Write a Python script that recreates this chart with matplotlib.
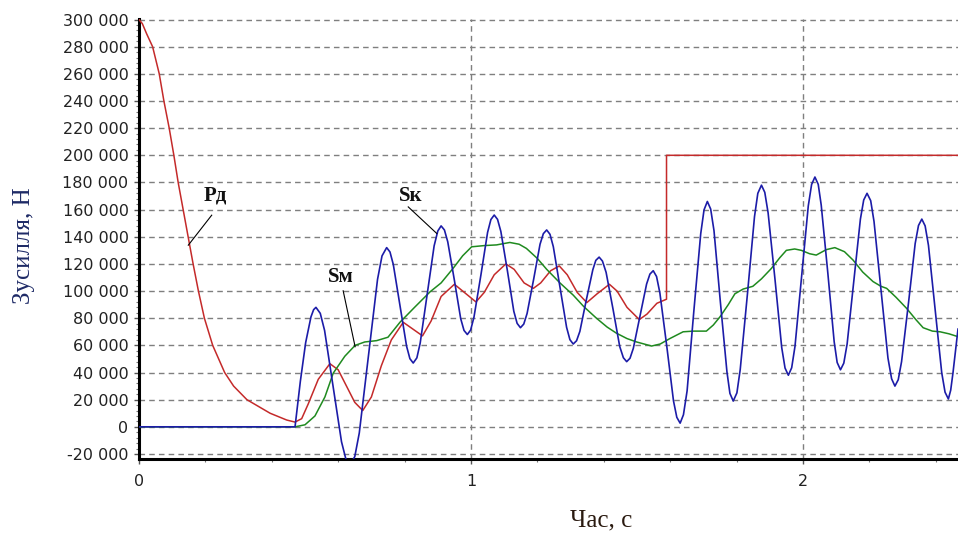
import matplotlib
matplotlib.use("Agg")
import matplotlib.pyplot as plt
from matplotlib.ticker import FuncFormatter, MultipleLocator

# ---- data ----
t_red = [0.0, 0.01, 0.023, 0.041, 0.061, 0.075, 0.091, 0.105, 0.118, 0.133, 0.148,
         0.163, 0.179, 0.197, 0.222, 0.258, 0.285, 0.325, 0.395, 0.445, 0.47,
         0.49, 0.51, 0.54, 0.575, 0.60, 0.625, 0.65, 0.674, 0.70, 0.73, 0.76,
         0.796, 0.825, 0.854, 0.88, 0.91, 0.95, 0.98, 1.015, 1.04, 1.07, 1.105,
         1.13, 1.16, 1.188, 1.21, 1.24, 1.266, 1.29, 1.32, 1.349, 1.38, 1.417,
         1.44, 1.47, 1.507, 1.53, 1.56, 1.589, 1.589, 2.467]
p_red = [300000, 297000, 289500, 280000, 260000, 240000, 220000, 200000, 180000, 160000, 140000,
         120000, 100000, 80000, 60000, 40000, 30000, 20000, 10000, 5000, 3500,
         6000, 17000, 35000, 46500, 42000, 30000, 18000, 12000, 22000, 45000, 64000,
         77000, 72000, 67000, 78000, 96000, 105000, 99000, 92000, 99000, 112000, 120000,
         116000, 106000, 102000, 106000, 115000, 118500, 112000, 99000, 91500, 98000, 105000,
         100000, 88000, 79000, 83000, 91000, 94000, 200000, 200000]

t_green = [0.0, 0.47, 0.50, 0.53, 0.56, 0.585, 0.62, 0.651, 0.68, 0.716, 0.75, 0.786,
           0.83, 0.877, 0.91, 0.947, 0.975, 1.002, 1.04, 1.077, 1.117, 1.145, 1.167,
           1.20, 1.228, 1.268, 1.308, 1.34, 1.378, 1.41, 1.438, 1.47, 1.499, 1.544,
           1.57, 1.599, 1.639, 1.67, 1.709, 1.73, 1.75, 1.775, 1.795, 1.82, 1.849,
           1.875, 1.905, 1.93, 1.95, 1.975, 1.995, 2.02, 2.04, 2.07, 2.096, 2.125,
           2.151, 2.18, 2.211, 2.235, 2.252, 2.28, 2.312, 2.34, 2.362, 2.39, 2.413,
           2.44, 2.467]
s_green = [0, 0, 1500, 8000, 22000, 39500, 52000, 60000, 62500, 63500, 66000, 77000,
           88000, 99500, 106000, 117000, 126000, 132600, 133500, 134000, 135800, 134500, 131400,
           124000, 116000, 106000, 97000, 88500, 80000, 73500, 69000, 65000, 62500, 59500,
           61000, 65000, 70000, 70500, 70500, 75000, 81000, 90000, 98000, 101500, 103500,
           109000, 116700, 124500, 130000, 131000, 130000, 127500, 126500, 130500, 132000, 129000,
           122800, 114000, 107000, 103500, 102000, 95500, 87300, 79000, 73000, 70500, 70000,
           68500, 66400]

t_blue = [0.0, 0.47, 0.486, 0.502, 0.518, 0.526, 0.533,
          0.546, 0.559, 0.5845, 0.610, 0.623, 0.636,
          0.650, 0.6635, 0.691, 0.7185, 0.732, 0.746,
          0.756, 0.766, 0.786, 0.806, 0.816, 0.826,
          0.837, 0.847, 0.868, 0.889, 0.900, 0.910,
          0.920, 0.930, 0.950, 0.969, 0.979, 0.989,
          0.999, 1.009, 1.030, 1.050, 1.060, 1.070,
          1.080, 1.090, 1.110, 1.129, 1.139, 1.149,
          1.159, 1.169, 1.189, 1.208, 1.218, 1.228,
          1.238, 1.248, 1.268, 1.288, 1.298, 1.308,
          1.318, 1.328, 1.347, 1.367, 1.376, 1.386,
          1.396, 1.407, 1.428, 1.448, 1.459, 1.469,
          1.479, 1.489, 1.509, 1.529, 1.539, 1.549,
          1.559, 1.569, 1.590, 1.610, 1.620, 1.630,
          1.640, 1.651, 1.671, 1.692, 1.702, 1.712,
          1.722, 1.732, 1.751, 1.771, 1.780, 1.790,
          1.801, 1.811, 1.833, 1.854, 1.864, 1.875,
          1.885, 1.895, 1.916, 1.936, 1.946, 1.956,
          1.966, 1.976, 1.996, 2.016, 2.026, 2.036,
          2.046, 2.055, 2.075, 2.094, 2.103, 2.113,
          2.123, 2.133, 2.153, 2.173, 2.183, 2.193,
          2.204, 2.214, 2.235, 2.256, 2.267, 2.277,
          2.287, 2.297, 2.318, 2.338, 2.348, 2.358,
          2.368, 2.378, 2.398, 2.418, 2.428, 2.438,
          2.445, 2.452, 2.467]
s_blue = [0, 0, 33500, 62000, 81000, 86300, 88000,
          83600, 71000, 30000, -11000, -23600, -28000,
          -21900, -4600, 52000, 108600, 125900, 132000,
          128800, 119600, 89500, 59400, 50200, 47000,
          50800, 61700, 97500, 133300, 144200, 148000,
          145000, 136300, 108000, 79700, 71000, 68000,
          71300, 80800, 112000, 143200, 152700, 156000,
          152800, 143900, 114500, 85100, 76200, 73000,
          75700, 83500, 109000, 134500, 142300, 145000,
          141800, 132700, 103000, 73300, 64200, 61000,
          63400, 70300, 93000, 115700, 122600, 125000,
          122100, 113800, 86500, 59200, 50900, 48000,
          50500, 57800, 81500, 105200, 112500, 115000,
          110700, 98600, 58900, 19100, 7000, 2700,
          8900, 26500, 84400, 142200, 159800, 166000,
          160400, 144500, 92500, 40500, 24600, 19000,
          25000, 42200, 98500, 154800, 172000, 178000,
          172700, 157600, 108000, 58400, 43300, 38000,
          43500, 59300, 111000, 162700, 178500, 184000,
          178600, 163300, 113000, 62700, 47400, 42000,
          46900, 61000, 107000, 153000, 167100, 172000,
          166600, 151300, 101000, 50700, 35400, 30000,
          34700, 48000, 91500, 135000, 148300, 153000,
          148000, 133700, 86800, 39800, 25500, 20500,
          27000, 40000, 72000]

y_ticks = list(range(-20000, 300001, 20000))
x_ticks = [0, 1, 2]

# ---- figure ----
fig = plt.figure(figsize=(9.58, 5.35), dpi=100)
ax = fig.add_axes([139/958, 1-459/535, 819/958, 440/535])

ax.set_xlim(0, 2.467)
ax.set_ylim(-23700, 300400)

ax.plot(t_red, p_red, color='#c42a2a', lw=1.1, zorder=3)
ax.plot(t_green, s_green, color='#1f8a1f', lw=1.1, zorder=4)
ax.plot(t_blue, s_blue, color='#1c1ca8', lw=1.2, zorder=5)

ax.set_yticks(y_ticks)
ax.set_xticks(x_ticks)
ax.yaxis.set_minor_locator(MultipleLocator(4000))
ax.xaxis.set_minor_locator(MultipleLocator(0.2))
ax.yaxis.set_major_formatter(FuncFormatter(lambda v, p: f"{int(round(v)):,}".replace(",", " ")))
ax.xaxis.set_major_formatter(FuncFormatter(lambda v, p: f"{int(round(v))}"))

ax.grid(True, which='major', color='#7f7f7f', linestyle=(0, (4, 3)), linewidth=1.0, zorder=1)
ax.set_axisbelow(True)

for s in ['top', 'right']:
    ax.spines[s].set_visible(False)
for s in ['left', 'bottom']:
    ax.spines[s].set_linewidth(2.2)
    ax.spines[s].set_color('black')

ax.tick_params(axis='both', which='major', length=3.5, width=1, color='#555555',
               labelsize=11.5, labelcolor='#222222', direction='out')
ax.tick_params(axis='both', which='minor', length=2.5, width=0.8, color='#777777', direction='out')
ax.tick_params(axis='y', which='major', pad=4)
ax.tick_params(axis='x', which='major', pad=7)

fig.text(24/958, 1-246/535, 'Зусилля, Н', rotation=90, ha='center', va='center',
         fontsize=18, family='Liberation Serif', color='#1e2a66')
fig.text(601/958, 1-520/535, 'Час, с', ha='center', va='center',
         fontsize=18, family='Liberation Serif', color='#2a1a10')

lbl = dict(fontsize=15, fontweight='bold', family='Liberation Serif', color='#111111',
           ha='center', va='center', zorder=6)
ax.text(0.229, 170600, 'Pд', **lbl)
ax.text(0.819, 169900, 'Sк', **lbl)
ax.text(0.608, 110300, 'Sм', **lbl)
ax.plot([0.219, 0.1485], [155900, 133800], color='black', lw=0.8, zorder=6)
ax.plot([0.615, 0.651], [100200, 59000], color='black', lw=0.8, zorder=6)
ax.plot([0.811, 0.897], [162000, 142400], color='black', lw=0.8, zorder=6)

fig.savefig('out.png', dpi=100)
